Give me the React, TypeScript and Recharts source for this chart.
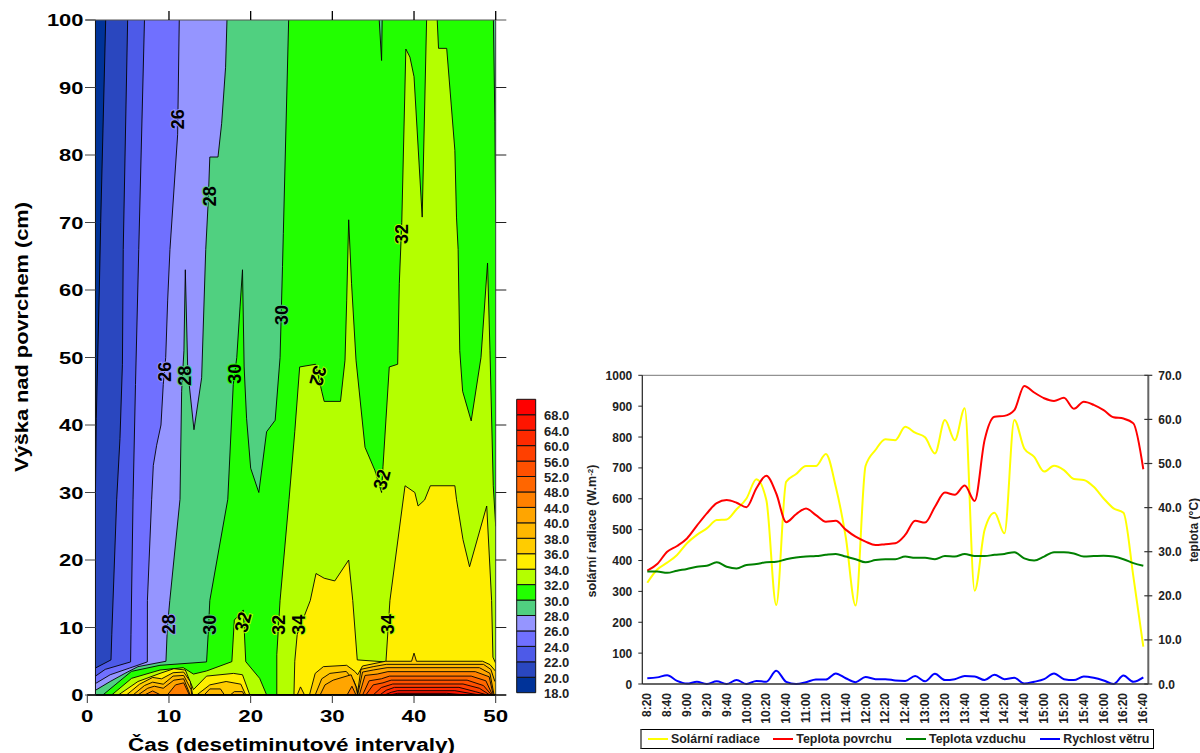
import React from "react";
import { ComposedChart, LineChart, BarChart, Area, Line, Bar, XAxis, YAxis, ReferenceLine, ReferenceDot, Legend } from "recharts";

const FONT = "'Liberation Sans', Arial, sans-serif";
type P = [number, number];

// ---- contour plot: for each temperature level, the height below which T >= level ----
const contour18: P[] = [[1, 115], [50, 115]];
const contour20: P[] = [[1, 30], [1.1, 41], [1.47, 60], [1.64, 70], [2.25, 100], [2.26, 115], [50, 115]];
const contour22: P[] = [[1, 4], [2.9, 5.2], [3, 9], [3.6, 29], [4, 38], [4.3, 49], [4.4, 66], [4.94, 100], [4.95, 115], [50, 115]];
const contour24: P[] = [[1, 2.8], [2.2, 3.8], [5.3, 4.9], [5.35, 9], [5.6, 29], [5.9, 46], [6.3, 66], [7, 100], [7.01, 115], [50, 115]];
const contour26: P[] = [[1, 1.7], [2.8, 3], [5.2, 4], [7.35, 4.9], [7.36, 14], [7.88, 29], [8.08, 34], [8.49, 37], [9.02, 40], [9.3, 46], [9.6, 50], [9.84, 58.5], [10.12, 66], [11.06, 83], [11.26, 100], [11.27, 115], [50, 115]];
const contour28: P[] = [[1, 0.7], [2.8, 2], [4.6, 3.2], [6.2, 4.2], [9.63, 5], [9.8, 10], [10.1, 14], [11.35, 29], [11.55, 45], [11.83, 51], [12, 63], [12.3, 48], [13.06, 39.3], [14, 47], [14.5, 66], [14.8, 73], [15, 79.7], [16, 79.7], [16.45, 84.7], [16.93, 93], [17.1, 100], [17.11, 115], [50, 115]];
const contour30: P[] = [[1.9, 0], [3.4, 1.5], [5.4, 3.5], [8.9, 4.4], [14.6, 4.9], [14.8, 9], [15, 14], [17.2, 29], [17.87, 46], [18.3, 50], [18.7, 57.5], [19, 63], [19.2, 48.6], [19.5, 41], [20, 33.6], [21, 30], [21.95, 39], [23, 40.7], [23.6, 50], [23.9, 63.5], [24, 68.4], [24.65, 100], [24.66, 115], [35.72, 115], [35.74, 100], [36.03, 94], [36.1, 100], [36.11, 115], [49.7, 115], [49.72, 100], [49.9, 85], [50, 70]];
const contour32: P[] = [[2.98, 0], [5.43, 2.47], [8.9, 3.7], [11.75, 4.05], [13, 3.1], [14.6, 3.56], [17.7, 4.94], [18, 11.1], [19.1, 12.6], [19.4, 4.94], [21.1, 2.47], [21.96, 0], [23.2, 0], [23.2, 6], [23.6, 14], [24.7, 29], [25.4, 39], [26, 48.6], [27.95, 49], [28.7, 45], [29, 43.5], [31, 43.5], [31.55, 49.6], [31.76, 58.5], [32, 70.4], [32.35, 61], [32.9, 49.6], [34, 36.7], [35.2, 33.3], [36.03, 30], [36.2, 33.8], [36.97, 48.6], [38, 49], [38.2, 61], [38.5, 70], [39, 95.7], [39.5, 94.5], [40, 91.6], [41, 70.8], [41.54, 100], [41.55, 115], [42.83, 115], [42.84, 100], [43, 95.8], [44, 95.8], [45, 80.7], [45.2, 70.8], [45.4, 66], [45.6, 51], [45.95, 45], [47, 40.6], [48.2, 50], [49, 64], [49.3, 51], [49.7, 31], [50, 25]];
const contour34: P[] = [[3.8, 0], [6.2, 2], [8.9, 3.2], [10.6, 3.9], [12, 3.7], [13, 0.8], [14.6, 2.8], [17.9, 3.2], [19, 3], [19.9, 0], [25.3, 0], [25.4, 5], [25.7, 9], [27.3, 14], [28, 18], [29, 17.3], [30.3, 16.9], [32, 20], [32.5, 14], [33.05, 5.2], [36.56, 4.9], [37.05, 14], [38.9, 31], [40.1, 30], [40.5, 28], [41.3, 28.9], [42, 31], [45, 31], [45.2, 29], [46, 23], [46.8, 19], [48.9, 28], [49.5, 14], [49.66, 5.6], [50, 4.7]];
const contour36: P[] = [[4.8, 0], [6.4, 1.6], [8, 2.6], [9.1, 2.4], [10.5, 3.3], [11.8, 3.4], [12.6, 2], [12.9, 0], [13.4, 0], [15, 1.5], [17, 2], [18.8, 1.6], [19.4, 0], [25.7, 0], [26.1, 1.2], [26.6, 0], [27.2, 0], [27.9, 3.2], [28.9, 4.2], [31.75, 4.4], [32.75, 3.5], [33.1, 3], [33.7, 4.3], [36.5, 5], [39.7, 5], [40, 6.2], [40.3, 5], [48.4, 5], [49.3, 4.5], [50, 3.5]];
const contour38: P[] = [[5.6, 0], [7, 1.4], [8, 1.9], [9.3, 1.6], [10.5, 2.8], [11.8, 2.9], [12.7, 0.8], [12.8, 0], [14.3, 0], [15, 0.9], [16.3, 0.9], [16.8, 0], [17.5, 0], [18, 0.5], [19, 0.5], [19.2, 0], [27.9, 0], [28.7, 2.4], [29.7, 3.2], [31.7, 3.5], [32.6, 2.2], [33, 1], [33.05, 0], [33.5, 3.8], [35, 4.2], [36.6, 4.54], [48.5, 4.54], [49.4, 3.8], [49.9, 2]];
const contour40: P[] = [[6.2, 0], [7.4, 1], [8.2, 1.3], [9.3, 1], [10.6, 2.2], [11.8, 2.4], [12.6, 0], [28.5, 0], [29.1, 1.5], [30.1, 2.2], [32.3, 3], [32.9, 1.2], [33.1, 0], [33.7, 3.4], [35, 3.7], [36.7, 4.05], [48, 4.05], [49.3, 3.2], [49.8, 0]];
const contour44: P[] = [[7, 0], [8, 0.6], [9, 0], [9.8, 0], [10.8, 1.5], [11.8, 1.8], [12.5, 0], [31.8, 0], [32.4, 1.3], [32.9, 0], [33.3, 0], [34, 2.9], [35.5, 3.1], [36.8, 3.46], [47.5, 3.46], [49.2, 2.7], [49.7, 0]];
const contour48: P[] = [[33.7, 0], [34.5, 2.1], [36, 2.4], [37, 2.8], [47, 2.8], [48.8, 2.1], [49.6, 0]];
const contour52: P[] = [[34.1, 0], [35, 1.5], [36.2, 1.8], [37.2, 2.2], [46.5, 2.2], [48.5, 1.4], [49.5, 0]];
const contour56: P[] = [[35, 0], [36, 1.1], [37.4, 1.63], [46, 1.63], [48, 1], [49.3, 0]];
const contour60: P[] = [[35.8, 0], [36.6, 0.7], [37.6, 1.13], [45.5, 1.13], [47.5, 0.5], [49, 0]];
const contour64: P[] = [[36.4, 0], [37.2, 0.4], [38, 0.64], [45, 0.64], [48, 0]];
const contour68: P[] = [[37.05, 0], [38, 0.25], [44, 0.25], [46.4, 0]];

const contours: P[][] = [contour18, contour20, contour22, contour24, contour26, contour28, contour30, contour32, contour34, contour36, contour38, contour40, contour44, contour48, contour52, contour56, contour60, contour64, contour68];
const bandLabels = ["18.0", "20.0", "22.0", "24.0", "26.0", "28.0", "30.0", "32.0", "34.0", "36.0", "38.0", "40.0", "44.0", "48.0", "52.0", "56.0", "60.0", "64.0", "68.0"];
const bandColors = ["#003399", "#2a47bf", "#4d5ae8", "#7070ff", "#9595ff", "#50d080", "#22ff00", "#b4ff00", "#ffee00", "#ffcc00", "#ffb800", "#ffa500", "#ff8000", "#ff6600", "#ff5000", "#ff4000", "#ff2a00", "#ff1500", "#ff0000"];

const labelText = ["26", "28", "26", "28", "30", "30", "32", "32", "32", "28", "30", "32", "32", "34", "34"];
const labelX = [11.1, 14.9, 9.5, 11.84, 18.08, 23.83, 38.5, 28.24, 36.07, 10, 14.9, 19.06, 23.46, 25.9, 36.8];
const labelY = [85.3, 73.9, 47.9, 47.3, 47.6, 56.3, 68.3, 47.3, 31.9, 10.5, 10.4, 10.8, 10.4, 10.4, 10.5];
const labelRot = [-90, -90, -90, -90, -90, -90, -90, 105, -75, -90, -90, -75, -90, -90, -90];
const labelHalo = ["#9595ff", "#50d080", "#9595ff", "#50d080", "#22ff00", "#50d080", "#b4ff00", "#b4ff00", "#b4ff00", "#9595ff", "#50d080", "#b4ff00", "#b4ff00", "#b4ff00", "#b4ff00"];

const xTicksContour = [0, 10, 20, 30, 40, 50];
const yTicksContour = [0, 10, 20, 30, 40, 50, 60, 70, 80, 90, 100];

// ---- line chart ----
const times = ["8:20", "8:30", "8:40", "8:50", "9:00", "9:10", "9:20", "9:30", "9:40", "9:50", "10:00", "10:10", "10:20", "10:30", "10:40", "10:50", "11:00", "11:10", "11:20", "11:30", "11:40", "11:50", "12:00", "12:10", "12:20", "12:30", "12:40", "12:50", "13:00", "13:10", "13:20", "13:30", "13:40", "13:50", "14:00", "14:10", "14:20", "14:30", "14:40", "14:50", "15:00", "15:10", "15:20", "15:30", "15:40", "15:50", "16:00", "16:10", "16:20", "16:30", "16:40"];
const solar = [328, 371, 393, 418, 456, 483, 504, 531, 533, 566, 601, 663, 596, 256, 655, 680, 706, 706, 745, 639, 477, 254, 706, 758, 793, 790, 833, 814, 799, 747, 855, 790, 893, 302, 499, 555, 488, 855, 763, 736, 688, 707, 693, 664, 661, 639, 601, 569, 555, 348, 121];
const surface = [25.7, 27.2, 30, 31.3, 33, 35.9, 38.7, 41, 41.7, 41.1, 40.1, 44.4, 47.2, 43.2, 36.7, 38.5, 39.8, 38.3, 36.8, 37, 35, 33.4, 32.3, 31.5, 31.7, 31.9, 33.8, 37, 36.6, 40.2, 43.4, 42.9, 45, 41.5, 55.3, 60.6, 60.8, 62.1, 67.6, 66.1, 64.8, 64.2, 64.9, 62.4, 64, 63.3, 62.1, 60.5, 60.2, 59.1, 48.7];
const air = [25.5, 25.5, 25.2, 25.7, 26.1, 26.6, 26.8, 27.6, 26.6, 26.2, 27, 27.2, 27.6, 27.7, 28.3, 28.7, 28.9, 29, 29.3, 29.5, 28.9, 28.3, 27.6, 28.1, 28.3, 28.3, 28.9, 28.6, 28.6, 28.3, 29, 28.9, 29.5, 29, 29, 29.3, 29.5, 29.9, 28.5, 28, 28.9, 29.9, 29.9, 29.6, 28.9, 29, 29.1, 28.9, 28.3, 27.4, 26.8];
const wind = [1.3, 1.5, 2, 0.7, 0.1, 0.5, 0, 0.6, 0, 0.9, 0, 0.7, 0.5, 3, 0.5, 0, 0.4, 1, 1, 2.4, 1.3, 0.4, 1.6, 1.1, 1.1, 0.8, 0.7, 1.8, 0.6, 2.3, 0.9, 1.1, 1.8, 1.7, 0.9, 2.1, 1.1, 1.4, 0.1, 0.5, 1.1, 2.4, 1.1, 0.9, 1.7, 1.4, 0.8, 0, 1.9, 0.5, 1.5];
const lineRows = times.map((t, i) => ({ t, solar: solar[i], surface: surface[i], air: air[i], wind: wind[i] }));
const solarTicks = [0, 100, 200, 300, 400, 500, 600, 700, 800, 900, 1000];
const tempTicks = [0, 10, 20, 30, 40, 50, 60, 70];

const barRow = [Object.fromEntries(bandLabels.map((l) => [l, 1]))];

const ContourYTick = (p: any) => (
  <g>
    <line x1={85} x2={95.7} y1={p.y} y2={p.y} stroke="#444" strokeWidth={1} />
    <text x={83.5} y={p.y + 6} textAnchor="end" fontFamily={FONT} fontWeight={700} fontSize={17} fill="#000" textLength={String(p.payload.value).length * 12.2} lengthAdjust="spacingAndGlyphs">{p.payload.value}</text>
  </g>
);
const ContourXTick = (p: any) => (
  <text x={p.x} y={722} textAnchor="middle" fontFamily={FONT} fontWeight={700} fontSize={17} fill="#000" textLength={String(p.payload.value).length * 12.4} lengthAdjust="spacingAndGlyphs">{p.payload.value}</text>
);
const LeftTick = (p: any) => (
  <text x={p.x} y={p.y + 4.5} textAnchor="end" fontFamily={FONT} fontWeight={700} fontSize={12} fill="#222">{p.payload.value}</text>
);
const RightTick = (p: any) => (
  <g>
    <line x1={p.x - 8} x2={p.x} y1={p.y} y2={p.y} stroke="#333" strokeWidth={1.2} />
    <text x={p.x + 6} y={p.y + 4.5} textAnchor="start" fontFamily={FONT} fontWeight={700} fontSize={12} fill="#222">{p.payload.value.toFixed(1)}</text>
  </g>
);
const TimeTick = (p: any) => (
  <text x={p.x + 4} y={353} transform={`rotate(-90 ${p.x + 4} 353)`} textAnchor="end" fontFamily={FONT} fontWeight={700} fontSize={12} fill="#222">{p.payload.value}</text>
);

const legendItemWidths = [125.3, 132.7, 134.3, 110];
const LegendBox = (p: any) => (
  <div style={{ width: 514, height: 20, boxSizing: "border-box", border: "1px solid #000", borderLeft: "2px solid #777", display: "flex", alignItems: "center", paddingLeft: 6.5, fontFamily: FONT, fontWeight: 700, fontSize: 12.4, color: "#222" }}>
    {(p.payload || []).map((e: any, i: number) => (
      <div key={e.value} style={{ display: "flex", alignItems: "center", width: legendItemWidths[i] }}>
        <span style={{ display: "inline-block", width: 20, height: 2, background: e.color, marginRight: 3 }} />
        <span style={{ whiteSpace: "nowrap" }}>{e.value}</span>
      </div>
    ))}
  </div>
);

export default function App() {
  return (
    <div style={{ position: "absolute", left: 0, top: 0, width: 1200, height: 753, overflow: "hidden", background: "#fff" }}>
      <div style={{ position: "absolute", left: 0, top: 0 }}>
        <ComposedChart width={540} height={753} margin={{ top: 20, left: 86.3, right: 44.3, bottom: 57 }}>
          <XAxis xAxisId={0} type="number" dataKey="x" domain={[0, 50]} ticks={xTicksContour} allowDataOverflow height={1} interval={0} tickSize={8} tick={ContourXTick} axisLine={{ stroke: "#000", strokeWidth: 1.5 }} tickLine={{ stroke: "#333" }}
            label={{ content: () => <text x={291.5} y={751} textAnchor="middle" fontFamily={FONT} fontWeight={700} fontSize={18} fill="#000" textLength={327} lengthAdjust="spacingAndGlyphs">Čas (desetiminutové intervaly)</text> }} />
          <YAxis yAxisId={0} type="number" domain={[0, 100]} ticks={yTicksContour} allowDataOverflow width={1} interval={0} tick={ContourYTick} axisLine={false} tickLine={false}
            label={{ content: () => <text x={28} y={337} transform="rotate(-90 28 337)" textAnchor="middle" fontFamily={FONT} fontWeight={700} fontSize={19} fill="#000" textLength={270} lengthAdjust="spacingAndGlyphs">Výška nad povrchem (cm)</text> }} />
          {contours.map((c, i) => (
            <Area key={bandLabels[i]} data={c.map(([x, h]) => ({ x, h }))} dataKey="h" type="linear" fill={bandColors[i]} fillOpacity={1} stroke="#000" strokeWidth={0.9} dot={false} activeDot={false} isAnimationActive={false} />
          ))}
          <ReferenceLine x={1} stroke="#111" strokeWidth={1} />
          <ReferenceLine x={50} stroke="#444" strokeWidth={1} />
          <ReferenceLine segment={[{ x: -0.2, y: 100 }, { x: 51.3, y: 100 }]} stroke="#555" strokeWidth={1} ifOverflow="visible" />
          <ReferenceLine segment={[{ x: 0, y: 0 }, { x: 51.3, y: 0 }]} stroke="#000" strokeWidth={1.5} ifOverflow="visible" />
          {xTicksContour.slice(1).map((t) => (
            <ReferenceLine key={`top${t}`} segment={[{ x: t, y: 100 }, { x: t, y: 101.33 }]} stroke="#000" strokeWidth={1.3} ifOverflow="visible" />
          ))}
          {yTicksContour.slice(1, -1).map((t) => (
            <ReferenceLine key={`right${t}`} segment={[{ x: 50, y: t }, { x: 51.3, y: t }]} stroke="#222" strokeWidth={1} ifOverflow="visible" />
          ))}
          {labelText.map((t, i) => (
            <ReferenceDot key={i} x={labelX[i]} y={labelY[i]} r={0} ifOverflow="visible"
              shape={(p: any) => (
                <text transform={`translate(${p.cx} ${p.cy}) rotate(${labelRot[i]})`} y={6.5} textAnchor="middle" fontFamily={FONT} fontWeight={700} fontSize={19} fill="#000" stroke={labelHalo[i]} strokeWidth={2} paintOrder="stroke" textLength={20} lengthAdjust="spacingAndGlyphs">{t}</text>
              )} />
          ))}
        </ComposedChart>
      </div>

      <div style={{ position: "absolute", left: 500, top: 380 }}>
        <BarChart width={90} height={330} data={barRow} barCategoryGap={0} margin={{ top: 19.3, left: 16.7, right: 53, bottom: 17.3 }}>
          <XAxis hide />
          <YAxis orientation="right" type="number" domain={[0, 19]} ticks={bandLabels.map((_, i) => i)} width={1} interval={0} axisLine={false} tickLine={false}
            tick={(p: any) => <text x={p.x} y={p.y + 5.5} fontFamily={FONT} fontWeight={700} fontSize={13} fill="#222">{bandLabels[p.payload.value]}</text>} />
          {bandLabels.map((l, i) => (
            <Bar key={l} dataKey={l} stackId="scale" fill={bandColors[i]} stroke="#111" strokeWidth={1} isAnimationActive={false} />
          ))}
        </BarChart>
      </div>

      <div style={{ position: "absolute", left: 560, top: 340 }}>
        <LineChart width={640} height={413} data={lineRows} margin={{ top: 35.3, left: 81.3, right: 50.7, bottom: 68 }}>
          <XAxis dataKey="t" height={1} interval={1} padding={{ left: 5, right: 5 }} tick={TimeTick} tickLine={false} axisLine={{ stroke: "#333", strokeWidth: 1.5 }} />
          <YAxis yAxisId="left" type="number" domain={[0, 1000]} ticks={solarTicks} width={1} interval={0} tickSize={4} tickMargin={6} tick={LeftTick} axisLine={{ stroke: "#222", strokeWidth: 1.2 }} tickLine={{ stroke: "#222" }} />
          <YAxis yAxisId="right" orientation="right" type="number" domain={[0, 70]} ticks={tempTicks} width={1} interval={0} tickSize={4} tickMargin={0} tick={RightTick} axisLine={{ stroke: "#666", strokeWidth: 2 }} tickLine={false} />
          <ReferenceLine yAxisId="left" y={1000} stroke="#777" strokeWidth={1} />
          <Line yAxisId="left" name="Solární radiace" dataKey="solar" type="monotone" stroke="#ffff00" strokeWidth={2} dot={false} isAnimationActive={false} />
          <Line yAxisId="right" name="Teplota povrchu" dataKey="surface" type="monotone" stroke="#ff0000" strokeWidth={2} dot={false} isAnimationActive={false} />
          <Line yAxisId="right" name="Teplota vzduchu" dataKey="air" type="monotone" stroke="#008000" strokeWidth={2} dot={false} isAnimationActive={false} />
          <Line yAxisId="right" name="Rychlost větru" dataKey="wind" type="monotone" stroke="#0000ff" strokeWidth={2} dot={false} isAnimationActive={false} />
          <Legend layout="horizontal" verticalAlign="middle" align="center" itemSorter={null} content={LegendBox} wrapperStyle={{ left: 79.5, top: 389, width: 514, height: 20 }} />
          <text x={36} y={191} transform="rotate(-90 36 191)" textAnchor="middle" fontFamily={FONT} fontWeight={700} fontSize={12.5} fill="#222">solární radiace (W.m<tspan dy={-3} fontSize={8}>-2</tspan><tspan dy={3}>)</tspan></text>
          <text x={638} y={190} transform="rotate(-90 638 190)" textAnchor="middle" fontFamily={FONT} fontWeight={700} fontSize={12} fill="#222">teplota (°C)</text>
        </LineChart>
      </div>
    </div>
  );
}
